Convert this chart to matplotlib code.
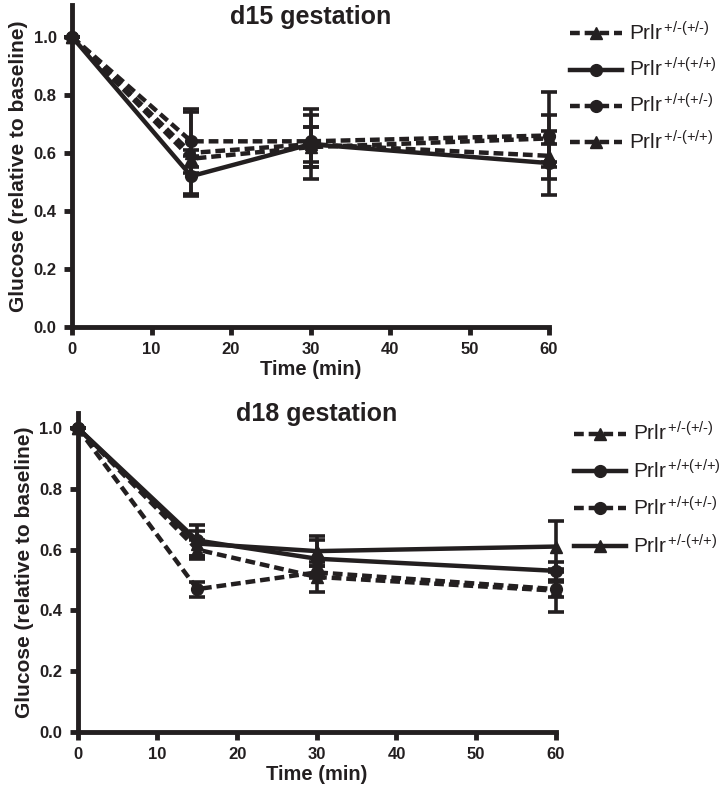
import numpy as np
import matplotlib.pyplot as plt
from matplotlib.lines import Line2D

plt.rcParams['font.family'] = ['Liberation Sans', 'DejaVu Sans']
plt.rcParams['mathtext.fontset'] = 'custom'
plt.rcParams['mathtext.rm'] = 'Liberation Sans'
plt.rcParams['mathtext.it'] = 'Liberation Sans'

INK = '#231f20'

times = [0, 15, 30, 60]
labels = ['Prlr$^{\\,\\text{+/-(+/-)}}$', 'Prlr$^{\\,\\text{+/+(+/+)}}$',
          'Prlr$^{\\,\\text{+/+(+/-)}}$', 'Prlr$^{\\,\\text{+/-(+/+)}}$']

# d15 gestation
d15_het_het = [1.0, 0.60, 0.63, 0.59]
d15_het_het_err = [0.0, 0.14, 0.12, 0.04]
d15_wt_wt = [1.0, 0.52, 0.63, 0.565]
d15_wt_wt_err = [0.0, 0.07, 0.06, 0.11]
d15_wt_het = [1.0, 0.64, 0.64, 0.66]
d15_wt_het_err = [0.0, 0.11, 0.09, 0.15]
d15_het_wt = [1.0, 0.58, 0.62, 0.65]
d15_het_wt_err = [0.0, 0.03, 0.07, 0.08]

# d18 gestation
d18_het_het = [1.0, 0.60, 0.51, 0.465]
d18_het_het_err = [0.0, 0.03, 0.05, 0.07]
d18_wt_wt = [1.0, 0.63, 0.57, 0.53]
d18_wt_wt_err = [0.0, 0.05, 0.06, 0.03]
d18_wt_het = [1.0, 0.47, 0.525, 0.47]
d18_wt_het_err = [0.0, 0.025, 0.02, 0.025]
d18_het_wt = [1.0, 0.62, 0.595, 0.61]
d18_het_wt_err = [0.0, 0.04, 0.05, 0.085]

yticks = [0.0, 0.2, 0.4, 0.6, 0.8, 1.0]
xticks = [0, 10, 20, 30, 40, 50, 60]

fig = plt.figure(figsize=(7.2, 8.0), dpi=100)


def draw_panel(rect, title, series, styles, ymax, legend_anchor, title_y,
               spacing):
    ax = fig.add_axes(rect)
    handles = []
    for (vals, errs), (ls, mk) in zip(series, styles):
        dashes = (2.2, 1.1) if ls == '--' else (None, None)
        ax.errorbar(times, vals, yerr=errs, color=INK, linestyle=ls,
                    linewidth=3.2, marker=mk, markersize=8.5,
                    ecolor=INK, elinewidth=2.6, capsize=6, capthick=2.6,
                    dashes=dashes, clip_on=False, zorder=3)
        handles.append(Line2D([], [], color=INK, linestyle=ls, dashes=dashes,
                              linewidth=3.2, marker=mk, markersize=8.5))
    ax.set_xlim(0, 60)
    ax.set_ylim(0, ymax)
    ax.set_xticks(xticks)
    ax.set_yticks(yticks)
    ax.yaxis.set_major_formatter(plt.FormatStrFormatter('%.1f'))
    for side in ['top', 'right']:
        ax.spines[side].set_visible(False)
    for side in ['left', 'bottom']:
        ax.spines[side].set_linewidth(3.5)
        ax.spines[side].set_color(INK)
    ax.tick_params(width=3.5, length=6, color=INK, labelsize=12,
                   labelcolor=INK, pad=5)
    for lab in ax.get_xticklabels() + ax.get_yticklabels():
        lab.set_fontweight('bold')
    ax.set_xlabel('Time (min)', fontsize=14.5, fontweight='bold', color=INK,
                  labelpad=2)
    ax.set_ylabel('Glucose (relative to baseline)', fontsize=15,
                  fontweight='bold', color=INK, labelpad=4)
    ax.text(0.5, title_y, title, transform=ax.transAxes, ha='center',
            va='top', fontsize=18, fontweight='bold', color=INK)
    leg = ax.legend(handles, labels, loc='upper left',
                    bbox_to_anchor=legend_anchor, frameon=False,
                    fontsize=15, handlelength=2.5, labelspacing=spacing,
                    handletextpad=0.35, borderpad=0, borderaxespad=0)
    for t in leg.get_texts():
        t.set_color(INK)
    return ax


draw_panel([0.10, 0.591, 0.6625, 0.403], 'd15 gestation',
           [(d15_het_het, d15_het_het_err), (d15_wt_wt, d15_wt_wt_err),
            (d15_wt_het, d15_wt_het_err), (d15_het_wt, d15_het_wt_err)],
           [('--', '^'), ('-', 'o'), ('--', 'o'), ('--', '^')],
           1.11, (1.044, 0.948), 1.0, 0.62)

draw_panel([0.108, 0.085, 0.664, 0.399], 'd18 gestation',
           [(d18_het_het, d18_het_het_err), (d18_wt_wt, d18_wt_wt_err),
            (d18_wt_het, d18_wt_het_err), (d18_het_wt, d18_het_wt_err)],
           [('--', '^'), ('-', 'o'), ('--', 'o'), ('-', '^')],
           1.05, (1.038, 0.972), 1.035, 0.68)

fig.savefig('out.png', dpi=100, facecolor='white')
